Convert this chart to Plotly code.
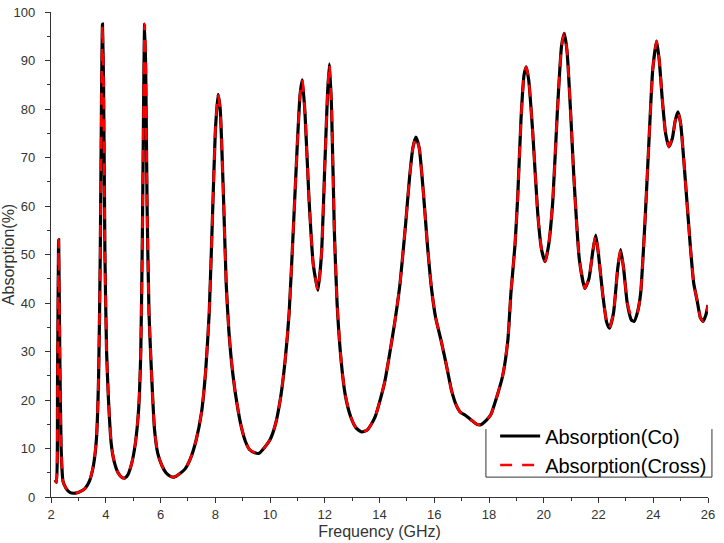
import plotly.graph_objects as go

# Frequency (GHz) and absorption (%)
freq = [2.15, 2.20, 2.24, 2.28, 2.32, 2.37, 2.44, 2.55, 2.70, 2.90,
        3.10, 3.25, 3.40, 3.55, 3.66, 3.74, 3.80, 3.85, 3.88, 3.92,
        3.97, 4.03, 4.10, 4.20, 4.30, 4.45, 4.60, 4.70, 4.80, 4.95,
        5.08, 5.20, 5.28, 5.34, 5.39, 5.42, 5.46, 5.51, 5.58, 5.66,
        5.78, 5.90, 6.05, 6.20, 6.35, 6.50, 6.70, 6.90, 7.10, 7.30,
        7.50, 7.65, 7.78, 7.90, 8.00, 8.10, 8.18, 8.30, 8.40, 8.50,
        8.65, 8.80, 8.95, 9.10, 9.25, 9.45, 9.60, 9.80, 10.00, 10.20,
        10.39, 10.55, 10.70, 10.85, 11.00, 11.10, 11.18, 11.28, 11.42, 11.58,
        11.75, 11.88, 12.00, 12.10, 12.17, 12.25, 12.35, 12.45, 12.60, 12.75,
        12.95, 13.15, 13.35, 13.55, 13.70, 13.84, 14.00, 14.20, 14.40, 14.57,
        14.75, 14.95, 15.10, 15.22, 15.33, 15.45, 15.60, 15.75, 15.90, 16.05,
        16.26, 16.45, 16.63, 16.80, 16.95, 17.15, 17.35, 17.55, 17.70, 17.90,
        18.07, 18.25, 18.50, 18.69, 18.80, 18.95, 19.05, 19.17, 19.28, 19.36,
        19.45, 19.60, 19.78, 19.92, 20.05, 20.18, 20.33, 20.50, 20.65, 20.75,
        20.85, 20.99, 21.10, 21.30, 21.50, 21.65, 21.80, 21.90, 22.00, 22.15,
        22.30, 22.40, 22.55, 22.70, 22.81, 22.92, 23.05, 23.20, 23.30, 23.42,
        23.54, 23.70, 23.84, 23.98, 24.12, 24.22, 24.33, 24.45, 24.57, 24.70,
        24.80, 24.90, 25.00, 25.18, 25.35, 25.48, 25.60, 25.72, 25.82, 25.92,
        26.00]

absorption_co = [3.5, 3.0, 25, 53, 30, 10, 3.2, 1.8, 0.9, 0.8,
                 1.2, 1.8, 3.2, 6.5, 12, 25, 50, 85, 97.5, 85,
                 50, 30, 20, 11, 7.5, 5, 4, 3.9, 4.5, 7,
                 11, 18, 30, 55, 85, 97.5, 88, 60, 38, 27,
                 14, 9, 6.5, 5, 4.3, 4.1, 4.8, 5.8, 8, 11.7,
                 17.5, 26, 38, 58, 75, 83, 80, 62, 44, 34,
                 25, 19, 14.5, 11.5, 9.8, 9.1, 9, 10.2, 11.8, 15,
                 20.6, 28, 38, 55, 73, 83, 86, 79, 62, 48,
                 42.6, 50, 68, 83, 89.3, 80, 55, 40, 28, 21,
                 16.5, 14.2, 13.4, 13.8, 15, 16.5, 19.5, 24, 30.5, 36.5,
                 44, 56, 66, 72, 74.2, 72, 63, 52, 43, 37,
                 32, 27, 22, 19, 17.5, 16.8, 15.9, 15, 14.9, 15.8,
                 17, 20, 25, 32.4, 42, 52, 62, 78, 87, 88.7,
                 86, 75, 58.5, 51, 48.5, 52, 61, 79.8, 93, 95.6,
                 92, 78.4, 66, 49, 43, 45, 51, 54, 50, 42,
                 36, 34.8, 38, 47, 51, 47, 40, 36.5, 36.2, 38,
                 42, 57, 73, 88, 94, 90, 82, 75, 72.2, 74,
                 77.5, 79.4, 77, 64.7, 52, 44, 40.6, 37, 36.2, 37.5,
                 39.6]

# cross-polarised curve matches the co curve except a flatter dip near 23.3 GHz
absorption_cross = list(absorption_co)
absorption_cross[157] = 37.3
absorption_cross[158] = 37.3

FONT = "Liberation Sans, Arial"
tick_font = dict(family=FONT, size=13, color="#333333")
title_font = dict(family=FONT, size=16, color="#333333")

fig = go.Figure()

fig.add_trace(go.Scatter(
    x=freq, y=absorption_co,
    name="Absorption(Co)",
    mode="lines",
    line=dict(color="black", width=3.2, shape="spline", smoothing=0.5),
))

fig.add_trace(go.Scatter(
    x=freq, y=absorption_cross,
    name="Absorption(Cross)",
    mode="lines",
    line=dict(color="#ff0000", width=2.6, dash="12px,10px", shape="spline", smoothing=0.5),
))

fig.update_xaxes(
    range=[2, 26], dtick=2, tick0=2,
    showline=True, linecolor="#333333", linewidth=1,
    ticks="outside", ticklen=5, tickcolor="#333333",
    minor=dict(ticks="outside", ticklen=3, dtick=1, tickcolor="#333333"),
    showgrid=False, zeroline=False, automargin=False,
    tickfont=tick_font,
    title=dict(text="Frequency (GHz)", standoff=5, font=title_font),
)
fig.update_yaxes(
    range=[0, 100], dtick=10,
    showline=True, linecolor="#333333", linewidth=1,
    ticks="outside", ticklen=5, tickcolor="#333333",
    minor=dict(ticks="outside", ticklen=3, dtick=5, tickcolor="#333333"),
    showgrid=False, zeroline=False, automargin=False,
    tickfont=tick_font, ticksuffix="\u00a0\u00a0",
    title=dict(text="Absorption(%)", standoff=0, font=title_font),
)

# legend frame: open at the top, like the original
fig.add_shape(
    type="path", xref="paper", yref="paper",
    path="M 0.662 0.140 L 0.662 0.041 L 1.006 0.041 L 1.006 0.140",
    line=dict(color="#333333", width=1),
)

fig.update_layout(
    width=724, height=543,
    paper_bgcolor="white", plot_bgcolor="white",
    margin=dict(l=51, r=13, t=12, b=46),
    legend=dict(
        x=0.676, y=0.166, xanchor="left", yanchor="top",
        bgcolor="rgba(0,0,0,0)", borderwidth=0,
        font=dict(family=FONT, size=20, color="black"),
        tracegroupgap=0, itemwidth=40,
    ),
)

fig.write_html(
    "out.html",
    config={"displayModeBar": False},
    post_script="document.body.style.margin='0px';document.body.style.overflow='hidden';",
)
